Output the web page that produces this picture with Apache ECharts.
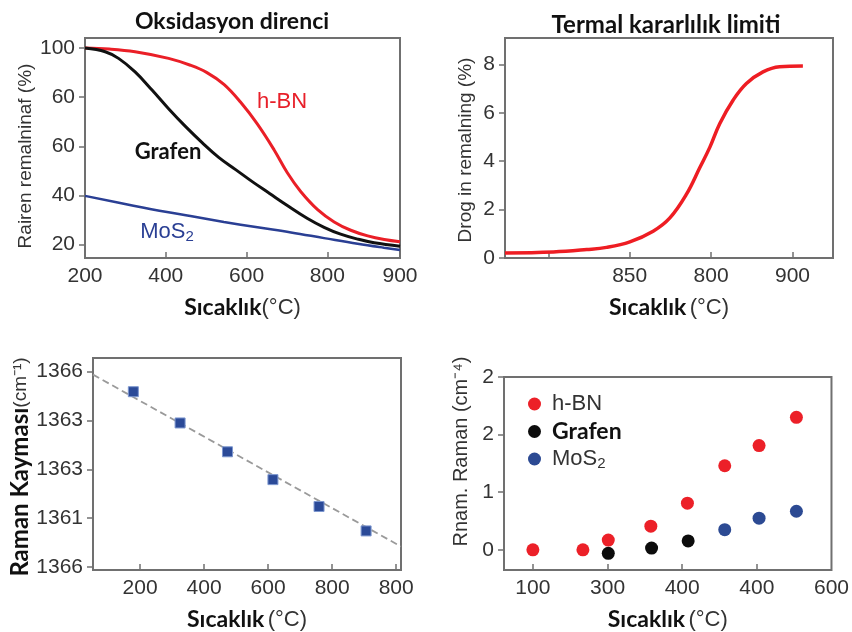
<!DOCTYPE html>
<html>
<head>
<meta charset="utf-8">
<title>Oksidasyon direnci / Termal kararlılık</title>
<script src="https://cdn.jsdelivr.net/npm/echarts@6/dist/echarts.min.js"></script>
<style>
  html, body { margin: 0; padding: 0; background: #fff; }
  #main { width: 852px; height: 632px; }
</style>
</head>
<body>
<div id="main"></div>
<script>
// --- 1. panel: Oksidasyon direnci ---
var hbnTemp = [200, 260, 324, 407, 461, 502, 544, 585, 627, 668, 701, 734, 776, 817, 858, 900, 941, 980];
var hbnRemain = [100, 99.6, 98.5, 95.8, 93.0, 90.0, 85.2, 78.0, 69.0, 58.6, 49.2, 41.6, 34.2, 29.2, 25.8, 23.5, 22.0, 21.1];
var grafenTemp = [200, 250, 283, 324, 366, 407, 448, 490, 531, 573, 615, 657, 700, 751, 792, 833, 875, 916, 980];
var grafenRemain = [100, 98.5, 95.8, 90.3, 82.9, 75.3, 68.2, 61.5, 55.5, 50.5, 45.5, 40.8, 36.0, 30.6, 27.0, 24.2, 22.2, 20.7, 19.3];
var mosTemp = [200, 320, 403, 461, 544, 627, 710, 792, 875, 940, 980];
var mosRemain = [39.8, 35.8, 33.2, 31.6, 29.2, 27.0, 24.9, 22.6, 20.3, 18.7, 17.8];
var oxXTicks = [200, 400, 600, 800, 980];
var oxXLabels = ['200', '400', '600', '800', '900'];
var oxYTicks = [20, 40, 60, 80, 100];
var oxYLabels = ['20', '40', '60', '60', '100'];

// --- 2. panel: Termal kararlılık limiti ---
var thermTemp = [723.4, 753.1, 773.6, 785.8, 800.1, 814.4, 824.7, 834.9, 843.1, 849.2, 855.3, 863.5, 871.7, 881.9, 892.1, 906.4];
var thermDrop = [0.21, 0.25, 0.35, 0.44, 0.67, 1.11, 1.66, 2.64, 3.74, 4.57, 5.55, 6.52, 7.21, 7.69, 7.90, 7.93];
var thXTicks = [750, 800, 850, 900];
var thXLabelVals = [800, 850, 900];
var thXLabels = ['850', '800', '900'];
var thYTicks = [0, 2, 4, 6, 8];
var thYLabels = ['0', '2', '4', '6', '8'];

// --- 3. panel: Raman kayması ---
var ramanTemp = [179, 325, 473, 615, 759, 906];
var ramanShift = [1365.59, 1364.95, 1364.36, 1363.79, 1363.24, 1362.74];
var fitTemp = [53, 1015];
var fitShift = [1365.94, 1362.42];
var rsXTicks = [200, 400, 600, 800, 1000];
var rsXLabels = ['200', '400', '600', '800', '800'];
var rsYTicks = [1362, 1363, 1364, 1365, 1366];
var rsYLabels = ['1366', '1361', '1363', '1363', '1366'];

// --- 4. panel: normalize Raman ---
var hbnRTemp = [100, 167, 201, 258, 307, 357, 403, 453];
var hbnRaman = [0, 0, 0.17, 0.41, 0.81, 1.46, 1.81, 2.30];
var grafenRTemp = [201, 259, 308];
var grafenRaman = [-0.06, 0.03, 0.155];
var mosRTemp = [357, 403, 453];
var mosRaman = [0.35, 0.55, 0.67];
var nrXTicks = [100, 200, 300, 400, 500];
var nrXLabels = ['100', '300', '400', '400', '600'];
var nrYTicks = [0, 1, 2, 3];
var nrYLabels = ['0', '1', '2', '2'];

function pairs(xs, ys) {
    var out = [];
    for (var i = 0; i < xs.length; i++) {
        out.push([xs[i], ys[i]]);
    }
    return out;
}

// etiket değerini metne çevir
function labelOf(vals, labels) {
    return function (v) {
        for (var i = 0; i < vals.length; i++) {
            if (Math.abs(vals[i] - v) < 1e-6) return labels[i];
        }
        return '';
    };
}

var frameColor = '#707070';
var tickFont = { color: '#333', fontSize: 21, fontFamily: 'Liberation Sans' };
var boldFont = 'Lato';

function xAxisOf(idx, min, max, ticks, labelVals, labels, nameText) {
    return {
        type: 'value', gridIndex: idx, min: min, max: max,
        axisLine: { show: false, onZero: false },
        splitLine: { show: false },
        axisTick: { show: true, inside: true, length: 6, customValues: ticks,
                    lineStyle: { color: frameColor, width: 1.5 } },
        axisLabel: Object.assign({ margin: 8, customValues: labelVals,
                    formatter: labelOf(labelVals, labels) }, tickFont),
        name: nameText, nameLocation: 'middle', nameGap: 38,
        nameTextStyle: {
            rich: {
                b: { fontFamily: boldFont, fontWeight: 'bold', fontSize: 23, color: '#111' },
                n: { fontFamily: 'Liberation Sans', fontSize: 22, color: '#333' }
            }
        }
    };
}

// shift > 0 : eksen adını yukarı kaydırır, < 0 : aşağı
function yAxisOf(idx, min, max, ticks, labels, nameText, gap, rich, shift) {
    return {
        type: 'value', gridIndex: idx, min: min, max: max,
        axisLine: { show: false, onZero: false },
        splitLine: { show: false },
        axisTick: { show: true, inside: false, length: 6, customValues: ticks,
                    lineStyle: { color: frameColor, width: 1.5 } },
        axisLabel: Object.assign({ margin: 10, customValues: ticks,
                    formatter: labelOf(ticks, labels) }, tickFont),
        name: nameText, nameLocation: 'middle', nameRotate: 90, nameGap: gap,
        nameTextStyle: { rich: rich, padding: shift > 0 ? [0, 0, 0, shift] : [0, -shift, 0, 0] }
    };
}

function yNameRich(size) {
    return { n: { fontFamily: 'Liberation Sans', fontSize: size, color: '#333' } };
}
var ramanNameRich = {
    b: { fontFamily: boldFont, fontWeight: 'bold', fontSize: 24, color: '#111' },
    n: { fontFamily: 'Liberation Sans', fontSize: 19, color: '#333' }
};

var myChart = echarts.init(document.getElementById('main'));

var option = {
    animation: false,
    backgroundColor: '#fff',
    grid: [
        { left: 85, top: 38, width: 315, height: 220, show: true, borderColor: frameColor, borderWidth: 2 },
        { left: 505, top: 38, width: 328, height: 220, show: true, borderColor: frameColor, borderWidth: 2 },
        { left: 93, top: 358, width: 308, height: 215, show: true, borderColor: frameColor, borderWidth: 2 },
        { left: 504, top: 377, width: 329, height: 201, show: true, borderColor: frameColor, borderWidth: 2 }
    ],
    xAxis: [
        xAxisOf(0, 200, 980, [400, 600, 800], oxXTicks, oxXLabels, '{b|Sıcaklık}{n|(°C)}'),
        xAxisOf(1, 723.4, 924.9, thXTicks, thXLabelVals, thXLabels, '{b|Sıcaklık} {n|(°C)}'),
        xAxisOf(2, 53, 1015, rsXTicks, rsXTicks, rsXLabels, '{b|Sıcaklık} {n|(°C)}'),
        xAxisOf(3, 61.3, 500, [100, 200, 300, 400], nrXTicks, nrXLabels, '{b|Sıcaklık} {n|(°C)}')
    ],
    yAxis: [
        yAxisOf(0, 14.5, 104.1, oxYTicks, oxYLabels, '{n|Rairen remalninaf (%)}', 50, yNameRich(19), -16),
        yAxisOf(1, 0, 9.09, thYTicks, thYLabels, '{n|Drog in remalning (%)}', 30, yNameRich(19), -4),
        yAxisOf(2, 1361.94, 1366.28, rsYTicks, rsYLabels, '{b|Raman Kayması}{n|(cm⁻¹)}', 59, ramanNameRich, -6),
        yAxisOf(3, -0.35, 3, nrYTicks, nrYLabels, '{n|Rnam. Raman (cm⁻⁴)}', 33, yNameRich(20), 44)
    ],
    legend: {
        left: 523, top: 388, orient: 'vertical', itemGap: 5,
        icon: 'circle', itemWidth: 13, itemHeight: 13,
        data: ['h-BN', 'Grafen', 'MoS2'],
        formatter: function (name) {
            if (name === 'Grafen') return '{b|Grafen}';
            if (name === 'MoS2') return '{n|MoS}{s|2}';
            return '{n|' + name + '}';
        },
        textStyle: {
            padding: [0, 0, 0, 6],
            rich: {
                n: { fontFamily: 'Liberation Sans', fontSize: 22, color: '#333', lineHeight: 24 },
                b: { fontFamily: boldFont, fontWeight: 'bold', fontSize: 23, color: '#111', lineHeight: 24 },
                s: { fontFamily: 'Liberation Sans', fontSize: 15, color: '#333', lineHeight: 24, verticalAlign: 'bottom', padding: [8, 0, 0, 0] }
            }
        }
    },
    graphic: [
        { type: 'text', x: 232, y: 22, style: { text: 'Oksidasyon direnci', fontFamily: boldFont, fontWeight: 'bold', fontSize: 23, fill: '#111', align: 'center', verticalAlign: 'middle' } },
        { type: 'text', x: 666, y: 25, style: { text: 'Termal kararlılık limiti', fontFamily: boldFont, fontWeight: 'bold', fontSize: 24, fill: '#111', align: 'center', verticalAlign: 'middle' } },
        { type: 'text', x: 282, y: 102, style: { text: 'h-BN', fontFamily: 'Liberation Sans', fontSize: 22, fill: '#e8202a', align: 'center', verticalAlign: 'middle' } },
        { type: 'text', x: 168, y: 152, style: { text: 'Grafen', fontFamily: boldFont, fontWeight: 'bold', fontSize: 22, fill: '#111', align: 'center', verticalAlign: 'middle' } },
        { type: 'text', x: 167, y: 232, style: { text: '{n|MoS}{s|2}', align: 'center', verticalAlign: 'middle',
            rich: {
                n: { fontFamily: 'Liberation Sans', fontSize: 22, fill: '#2a3f94', lineHeight: 24 },
                s: { fontFamily: 'Liberation Sans', fontSize: 15, fill: '#2a3f94', lineHeight: 24, verticalAlign: 'bottom', padding: [8, 0, 0, 0] }
            } } }
    ],
    series: [
        { name: 'h-BN oks', type: 'line', xAxisIndex: 0, yAxisIndex: 0, data: pairs(hbnTemp, hbnRemain),
          showSymbol: false, smooth: 0.4, lineStyle: { color: '#ea1f27', width: 3 }, itemStyle: { color: '#ea1f27' } },
        { name: 'Grafen oks', type: 'line', xAxisIndex: 0, yAxisIndex: 0, data: pairs(grafenTemp, grafenRemain),
          showSymbol: false, smooth: 0.4, lineStyle: { color: '#111', width: 3 }, itemStyle: { color: '#111' } },
        { name: 'MoS2 oks', type: 'line', xAxisIndex: 0, yAxisIndex: 0, data: pairs(mosTemp, mosRemain),
          showSymbol: false, smooth: 0.4, lineStyle: { color: '#2a3f94', width: 2.5 }, itemStyle: { color: '#2a3f94' } },

        { name: 'termal', type: 'line', xAxisIndex: 1, yAxisIndex: 1, data: pairs(thermTemp, thermDrop),
          showSymbol: false, smooth: 0.4, lineStyle: { color: '#ee1d23', width: 3.5 }, itemStyle: { color: '#ee1d23' } },

        { name: 'fit', type: 'line', xAxisIndex: 2, yAxisIndex: 2, data: pairs(fitTemp, fitShift),
          showSymbol: false, lineStyle: { color: '#9a9a9a', width: 1.8, type: [7, 4] }, z: 1 },
        { name: 'Raman', type: 'scatter', xAxisIndex: 2, yAxisIndex: 2, data: pairs(ramanTemp, ramanShift),
          symbol: 'rect', symbolSize: 10, itemStyle: { color: '#2b4a98', borderColor: '#7d97cf', borderWidth: 1, opacity: 1 }, z: 3 },

        { name: 'h-BN', type: 'scatter', xAxisIndex: 3, yAxisIndex: 3, data: pairs(hbnRTemp, hbnRaman),
          symbolSize: 13, itemStyle: { color: '#ec2028', opacity: 1 } },
        { name: 'Grafen', type: 'scatter', xAxisIndex: 3, yAxisIndex: 3, data: pairs(grafenRTemp, grafenRaman),
          symbolSize: 13, itemStyle: { color: '#0c0c0c', opacity: 1 } },
        { name: 'MoS2', type: 'scatter', xAxisIndex: 3, yAxisIndex: 3, data: pairs(mosRTemp, mosRaman),
          symbolSize: 13, itemStyle: { color: '#2c4a93', opacity: 1 } }
    ]
};

myChart.setOption(option);
</script>
</body>
</html>
